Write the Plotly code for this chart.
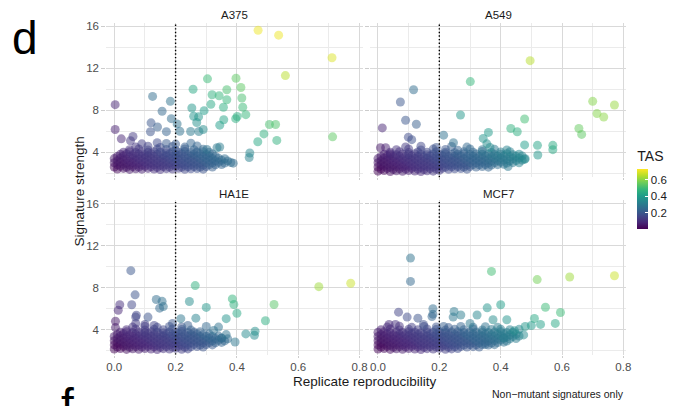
import plotly.graph_objects as go

# ---------------- data ----------------
panel_names = ["A375", "A549", "HA1E", "MCF7"]

x_ticks = [0.0, 0.2, 0.4, 0.6, 0.8]
x_tick_labels = ["0.0", "0.2", "0.4", "0.6", "0.8"]
y_ticks = [4, 8, 12, 16]
y_tick_labels = ["4", "8", "12", "16"]
tas_ticks = [0.2, 0.4, 0.6]
tas_tick_labels = ["0.2", "0.4", "0.6"]
threshold_x = 0.2

# ---- A375: scattered points ----
a375_out_x = [.469, .536, .71, .558, .712, .304, .397, .257, .319, .367, .413, .342, .367, .416, .315,
              .419, .356, .253, .293, .429, .396, .401, .357, .259, .275, .269, .344, .29, .506, .526,
              .488, .468, .53, .442, .44, .388, .125, .183, .156, .186, .003, .003, .023, .061, .053,
              .12, .141, .118, .17, .205, .214, .17, .249, .276, .335, .344, .302]
a375_out_y = [15.62, 15.15, 13.0, 11.3, 5.47, 10.99, 11.05, 10.0, 9.48, 9.95, 10.17, 9.38, 9.0, 9.16, 8.56,
              8.28, 8.28, 8.21, 7.96, 7.58, 7.2, 7.4, 7.1, 7.43, 7.37, 6.83, 6.58, 6.17, 6.64, 6.64,
              5.75, 5.0, 5.13, 3.93, 3.5, 2.96, 9.32, 8.85, 7.9, 7.2, 8.53, 6.17, 5.28, 5.5, 5.1,
              6.8, 6.4, 5.95, 5.96, 6.7, 6.0, 4.83, 5.98, 5.98, 4.43, 4.5, 4.27]
a375_out_tas = [.72, .72, .7, .66, .55, .5, .55, .44, .47, .52, .55, .49, .49, .52, .44,
                .5, .46, .39, .41, .49, .46, .46, .43, .38, .39, .37, .41, .36, .52, .53,
                .47, .44, .47, .34, .32, .26, .26, .28, .25, .26, .08, .07, .08, .13, .12,
                .2, .22, .19, .23, .28, .27, .21, .3, .31, .3, .31, .28]
# ---- A375: dense cluster ----
a375_cl_x = [.01, .03, .05, .07, .09, .11, .13, .15, .17, .19, .21, .23, .25, .27, .29,
             0, .02, .04, .06, .08, .1, .12, .14, .16, .18, .2, .22, .24, .26, .28, .3, .32,
             .01, .03, .05, .07, .09, .11, .13, .15, .17, .19, .21, .23, .25, .27, .29, .31, .33, .35,
             0, .02, .04, .06, .08, .1, .12, .14, .16, .18, .2, .22, .24, .26, .28, .3, .32, .34, .36, .38,
             .01, .03, .05, .07, .09, .11, .13, .15, .17, .19, .21, .23, .25, .27, .29, .31, .33, .35, .37,
             0, .02, .04, .06, .08, .1, .12, .14, .16, .18, .2, .22, .24, .26, .28, .3, .32, .34, .36,
             .01, .03, .05, .07, .09, .11, .13, .15, .17, .19, .21, .23, .25, .27, .29, .31, .33,
             .02, .04, .06, .08, .1, .12, .14, .16, .18, .2, .22, .24, .26, .28, .3, .32,
             .03, .05, .07, .09, .11, .13, .15, .17, .19, .21, .23, .25, .27, .29, .31,
             .05, .08, .11, .14, .17, .2, .23, .26, .29,
             .07, .11, .15, .19, .23, .27,
             .09, .14, .2, .25]
a375_cl_y = [2.4, 2.46, 2.37, 2.43, 2.39, 2.46, 2.41, 2.36, 2.44, 2.4, 2.47, 2.38, 2.42, 2.45, 2.39,
             2.6, 2.66, 2.57, 2.63, 2.59, 2.66, 2.61, 2.56, 2.64, 2.6, 2.67, 2.58, 2.62, 2.65, 2.59, 2.63, 2.6,
             2.8, 2.86, 2.77, 2.83, 2.79, 2.86, 2.81, 2.76, 2.84, 2.8, 2.87, 2.78, 2.82, 2.85, 2.79, 2.83, 2.8, 2.84,
             3.0, 3.06, 2.97, 3.03, 2.99, 3.06, 3.01, 2.96, 3.04, 3.0, 3.07, 2.98, 3.02, 3.05, 2.99, 3.03, 3.0, 3.04, 2.98, 3.02,
             3.2, 3.26, 3.17, 3.23, 3.19, 3.26, 3.21, 3.16, 3.24, 3.2, 3.27, 3.18, 3.22, 3.25, 3.19, 3.23, 3.2, 3.24, 3.18,
             3.4, 3.46, 3.37, 3.43, 3.39, 3.46, 3.41, 3.36, 3.44, 3.4, 3.47, 3.38, 3.42, 3.45, 3.39, 3.43, 3.4, 3.44, 3.38,
             3.6, 3.66, 3.57, 3.63, 3.59, 3.66, 3.61, 3.56, 3.64, 3.6, 3.67, 3.58, 3.62, 3.65, 3.59, 3.63, 3.6,
             3.8, 3.86, 3.77, 3.83, 3.79, 3.86, 3.81, 3.76, 3.84, 3.8, 3.87, 3.78, 3.82, 3.85, 3.79, 3.83,
             4.0, 4.06, 3.97, 4.03, 3.99, 4.06, 4.01, 3.96, 4.04, 4.0, 4.07, 3.98, 4.02, 4.05, 3.99,
             4.25, 4.32, 4.22, 4.3, 4.26, 4.2, 4.31, 4.24, 4.28,
             4.5, 4.58, 4.46, 4.55, 4.49, 4.6,
             4.8, 4.9, 4.78, 4.86]
a375_cl_tas = [.02, .04, .05, .06, .07, .08, .1, .11, .12, .13, .14, .16, .17, .18, .19,
               .02, .04, .05, .06, .07, .08, .1, .11, .12, .13, .14, .16, .17, .18, .19, .2, .22,
               .04, .05, .06, .07, .08, .1, .11, .12, .13, .14, .16, .17, .18, .19, .2, .22, .23, .24,
               .04, .05, .06, .07, .08, .1, .11, .12, .13, .14, .16, .17, .18, .19, .2, .22, .23, .24, .25, .26,
               .05, .06, .07, .08, .09, .11, .12, .13, .14, .15, .17, .18, .19, .2, .21, .23, .24, .25, .26,
               .05, .06, .07, .08, .1, .11, .12, .13, .14, .16, .17, .18, .19, .2, .22, .23, .24, .25, .26,
               .06, .07, .08, .09, .11, .12, .13, .14, .15, .17, .18, .19, .2, .21, .23, .24, .25,
               .07, .08, .1, .11, .12, .13, .14, .16, .17, .18, .19, .2, .22, .23, .24, .25,
               .08, .1, .11, .12, .13, .14, .16, .17, .18, .19, .2, .22, .23, .24, .25,
               .1, .12, .14, .16, .17, .19, .21, .23, .25,
               .12, .15, .17, .19, .22, .24,
               .14, .17, .21, .24]

# ---- A549 ----
a549_out_x = [.496, .301, .116, .073, .70, .771, .714, .736, .269, .09, .125, .014, .478, .433, .454,
              .655, .664, .36, .343, .099, .11, .214, .246, .52, .57, .57, .521, .478, .355, .365,
              .008, .025, .04, .478, .424, .46]
a549_out_y = [12.72, 10.73, 9.95, 8.78, 8.85, 8.5, 7.68, 7.36, 7.55, 7.05, 6.67, 6.32, 7.17, 6.26, 5.95,
              6.26, 5.7, 5.89, 5.32, 5.44, 5.2, 5.63, 4.9, 4.66, 4.66, 4.25, 3.74, 4.7, 4.8, 4.45,
              4.43, 4.43, 3.75, 3.33, 2.65, 3.0]
a549_out_tas = [.66, .49, .26, .2, .6, .62, .6, .61, .39, .2, .22, .08, .51, .47, .46,
                .56, .55, .4, .38, .17, .18, .27, .28, .43, .45, .44, .39, .41, .36, .35,
                .05, .07, .08, .35, .3, .33]
a549_cl_x = [0, .02, .04, .06, .08, .1, .12, .14, .16, .18, .2,
             .01, .03, .05, .07, .09, .11, .13, .15, .17, .19, .21, .23, .25, .27, .29,
             0, .02, .04, .06, .08, .1, .12, .14, .16, .18, .2, .22, .24, .26, .28, .3, .32, .34, .36,
             .01, .03, .05, .07, .09, .11, .13, .15, .17, .19, .21, .23, .25, .27, .29, .31, .33, .35, .37, .39, .41,
             0, .02, .04, .06, .08, .1, .12, .14, .16, .18, .2, .22, .24, .26, .28, .3, .32, .34, .36, .38, .4, .42, .44,
             .01, .03, .05, .07, .09, .11, .13, .15, .17, .19, .21, .23, .25, .27, .29, .31, .33, .35, .37, .39, .41, .43, .45, .47,
             0, .02, .04, .06, .08, .1, .12, .14, .16, .18, .2, .22, .24, .26, .28, .3, .32, .34, .36, .38, .4, .42, .44, .46, .48,
             .01, .03, .05, .07, .09, .11, .13, .15, .17, .19, .21, .23, .25, .27, .29, .31, .33, .35, .37, .39, .41, .43, .45, .47,
             .02, .04, .06, .08, .1, .12, .14, .16, .18, .2, .22, .24, .26, .28, .3, .32, .34, .36, .38, .4, .42, .44, .46,
             .04, .07, .1, .13, .16, .19, .22, .25, .28, .31, .34, .37, .4, .43,
             .06, .1, .14, .18, .22, .26, .3, .34, .38, .42,
             .09, .14, .19, .24, .29]
a549_cl_y = [2.2, 2.26, 2.17, 2.23, 2.19, 2.26, 2.21, 2.16, 2.24, 2.2, 2.27,
             2.4, 2.46, 2.37, 2.43, 2.39, 2.46, 2.41, 2.36, 2.44, 2.4, 2.47, 2.38, 2.42, 2.45, 2.39,
             2.6, 2.66, 2.57, 2.63, 2.59, 2.66, 2.61, 2.56, 2.64, 2.6, 2.67, 2.58, 2.62, 2.65, 2.59, 2.63, 2.6, 2.64, 2.58,
             2.8, 2.86, 2.77, 2.83, 2.79, 2.86, 2.81, 2.76, 2.84, 2.8, 2.87, 2.78, 2.82, 2.85, 2.79, 2.83, 2.8, 2.84, 2.78, 2.82, 2.86,
             3.0, 3.06, 2.97, 3.03, 2.99, 3.06, 3.01, 2.96, 3.04, 3.0, 3.07, 2.98, 3.02, 3.05, 2.99, 3.03, 3.0, 3.04, 2.98, 3.02, 3.06, 2.97, 3.01,
             3.2, 3.26, 3.17, 3.23, 3.19, 3.26, 3.21, 3.16, 3.24, 3.2, 3.27, 3.18, 3.22, 3.25, 3.19, 3.23, 3.2, 3.24, 3.18, 3.22, 3.26, 3.17, 3.21, 3.25,
             3.4, 3.46, 3.37, 3.43, 3.39, 3.46, 3.41, 3.36, 3.44, 3.4, 3.47, 3.38, 3.42, 3.45, 3.39, 3.43, 3.4, 3.44, 3.38, 3.42, 3.46, 3.37, 3.41, 3.45, 3.39,
             3.6, 3.66, 3.57, 3.63, 3.59, 3.66, 3.61, 3.56, 3.64, 3.6, 3.67, 3.58, 3.62, 3.65, 3.59, 3.63, 3.6, 3.64, 3.58, 3.62, 3.66, 3.57, 3.61, 3.65,
             3.8, 3.86, 3.77, 3.83, 3.79, 3.86, 3.81, 3.76, 3.84, 3.8, 3.87, 3.78, 3.82, 3.85, 3.79, 3.83, 3.8, 3.84, 3.78, 3.82, 3.86, 3.77, 3.81,
             4.0, 4.06, 3.97, 4.03, 3.99, 4.06, 4.01, 3.96, 4.04, 4.0, 4.07, 3.98, 4.02, 4.05,
             4.25, 4.32, 4.22, 4.3, 4.26, 4.2, 4.31, 4.24, 4.28, 4.22,
             4.5, 4.58, 4.46, 4.55, 4.49]
a549_cl_tas = [.01, .02, .03, .05, .06, .07, .08, .09, .11, .12, .13,
               .02, .04, .05, .06, .07, .08, .1, .11, .12, .13, .14, .16, .17, .18, .19,
               .02, .04, .05, .06, .07, .08, .1, .11, .12, .13, .14, .16, .17, .18, .19, .2, .22, .23, .24,
               .04, .05, .06, .07, .08, .1, .11, .12, .13, .14, .16, .17, .18, .19, .2, .22, .23, .24, .25, .26, .28,
               .04, .05, .06, .07, .08, .1, .11, .12, .13, .14, .16, .17, .18, .19, .2, .22, .23, .24, .25, .26, .28, .29, .3,
               .05, .06, .07, .08, .09, .11, .12, .13, .14, .15, .17, .18, .19, .2, .21, .23, .24, .25, .26, .27, .29, .3, .31, .32,
               .05, .06, .07, .08, .1, .11, .12, .13, .14, .16, .17, .18, .19, .2, .22, .23, .24, .25, .26, .28, .29, .3, .31, .32, .34,
               .06, .07, .08, .09, .11, .12, .13, .14, .15, .17, .18, .19, .2, .21, .23, .24, .25, .26, .27, .29, .3, .31, .32, .33,
               .07, .08, .1, .11, .12, .13, .14, .16, .17, .18, .19, .2, .22, .23, .24, .25, .26, .28, .29, .3, .31, .32, .34,
               .09, .11, .13, .14, .16, .18, .2, .22, .23, .25, .27, .29, .31, .32,
               .11, .13, .16, .18, .2, .23, .25, .28, .3, .33,
               .13, .16, .19, .22, .25]

# ---- HA1E ----
ha1e_out_x = [.054, .068, .264, .667, .771, .018, .013, .057, .137, .156, .16, .148, .245, .3, .385,
              .39, .40, .521, .493, .365, .266, .217, .11, .072, .07, .004, .004, .429, .459, .457, .394,
              .07, .1, .13, .19, .24, .3, .324, .365, .34, .35]
ha1e_out_y = [9.62, 7.32, 8.2, 8.1, 8.42, 6.37, 5.85, 6.37, 6.87, 6.7, 6.2, 6.05, 6.68, 6.12, 6.93,
              6.4, 5.57, 6.4, 4.85, 5.05, 5.1, 5.05, 5.2, 5.37, 5.2, 4.8, 4.2, 3.6, 3.85, 3.47, 2.83,
              4.6, 4.5, 4.4, 4.6, 4.4, 4.3, 3.93, 3.53, 4.25, 3.2]
ha1e_out_tas = [.2, .19, .47, .63, .68, .1, .08, .16, .26, .27, .27, .25, .36, .39, .48,
                .47, .44, .54, .46, .38, .33, .29, .19, .16, .15, .05, .05, .35, .37, .35, .29,
                .13, .14, .15, .2, .22, .25, .27, .28, .28, .26]
ha1e_cl_x = [0, .02, .04, .06, .08, .1, .12, .14, .16, .18, .2, .22, .24,
             .01, .03, .05, .07, .09, .11, .13, .15, .17, .19, .21, .23, .25, .27, .29,
             0, .02, .04, .06, .08, .1, .12, .14, .16, .18, .2, .22, .24, .26, .28, .3, .32,
             .01, .03, .05, .07, .09, .11, .13, .15, .17, .19, .21, .23, .25, .27, .29, .31, .33, .35,
             0, .02, .04, .06, .08, .1, .12, .14, .16, .18, .2, .22, .24, .26, .28, .3, .32, .34, .36,
             .01, .03, .05, .07, .09, .11, .13, .15, .17, .19, .21, .23, .25, .27, .29, .31, .33, .35, .37,
             0, .02, .04, .06, .08, .1, .12, .14, .16, .18, .2, .22, .24, .26, .28, .3, .32, .34,
             .01, .03, .05, .07, .09, .11, .13, .15, .17, .19, .21, .23, .25, .27, .29, .31,
             .02, .04, .06, .08, .1, .12, .14, .16, .18, .2, .22, .24, .26, .28,
             .04, .07, .1, .13, .16, .19, .22, .25,
             .06, .1, .14, .18, .22]
ha1e_cl_y = [2.15, 2.21, 2.12, 2.18, 2.14, 2.21, 2.16, 2.11, 2.19, 2.15, 2.22, 2.13, 2.17,
             2.35, 2.41, 2.32, 2.38, 2.34, 2.41, 2.36, 2.31, 2.39, 2.35, 2.42, 2.33, 2.37, 2.4, 2.34,
             2.55, 2.61, 2.52, 2.58, 2.54, 2.61, 2.56, 2.51, 2.59, 2.55, 2.62, 2.53, 2.57, 2.6, 2.54, 2.58, 2.55,
             2.75, 2.81, 2.72, 2.78, 2.74, 2.81, 2.76, 2.71, 2.79, 2.75, 2.82, 2.73, 2.77, 2.8, 2.74, 2.78, 2.75, 2.79,
             2.95, 3.01, 2.92, 2.98, 2.94, 3.01, 2.96, 2.91, 2.99, 2.95, 3.02, 2.93, 2.97, 3.0, 2.94, 2.98, 2.95, 2.99, 2.93,
             3.15, 3.21, 3.12, 3.18, 3.14, 3.21, 3.16, 3.11, 3.19, 3.15, 3.22, 3.13, 3.17, 3.2, 3.14, 3.18, 3.15, 3.19, 3.13,
             3.35, 3.41, 3.32, 3.38, 3.34, 3.41, 3.36, 3.31, 3.39, 3.35, 3.42, 3.33, 3.37, 3.4, 3.34, 3.38, 3.35, 3.39,
             3.55, 3.61, 3.52, 3.58, 3.54, 3.61, 3.56, 3.51, 3.59, 3.55, 3.62, 3.53, 3.57, 3.6, 3.54, 3.58,
             3.75, 3.81, 3.72, 3.78, 3.74, 3.81, 3.76, 3.71, 3.79, 3.75, 3.82, 3.73, 3.77, 3.8,
             4.0, 4.06, 3.97, 4.03, 3.99, 4.06, 4.01, 3.96,
             4.25, 4.32, 4.22, 4.3, 4.26]
ha1e_cl_tas = [.01, .02, .03, .05, .06, .07, .08, .09, .11, .12, .13, .14, .15,
               .02, .03, .05, .06, .07, .08, .09, .11, .12, .13, .14, .15, .17, .18, .19,
               .02, .03, .05, .06, .07, .08, .09, .11, .12, .13, .14, .15, .17, .18, .19, .2, .21,
               .03, .05, .06, .07, .08, .09, .11, .12, .13, .14, .15, .17, .18, .19, .2, .21, .23, .24,
               .03, .05, .06, .07, .08, .09, .11, .12, .13, .14, .15, .17, .18, .19, .2, .21, .23, .24, .25,
               .05, .06, .07, .08, .09, .11, .12, .13, .14, .15, .17, .18, .19, .2, .21, .23, .24, .25, .26,
               .05, .06, .07, .08, .09, .11, .12, .13, .14, .15, .17, .18, .19, .2, .21, .23, .24, .25,
               .06, .07, .08, .09, .11, .12, .13, .14, .15, .17, .18, .19, .2, .21, .23, .24,
               .07, .08, .09, .11, .12, .13, .14, .15, .17, .18, .19, .2, .21, .23,
               .09, .11, .13, .14, .16, .18, .2, .22,
               .11, .13, .16, .18, .2]

# ---- MCF7 ----
mcf7_out_x = [.106, .106, .37, .519, .625, .771, .067, .095, .179, .179, .176, .248, .27, .245, .356,
              .40, .546, .595, .51, .578, .375, .323, .3, .42, .48, .50, .53, .475, .445, .41,
              .35, .214, .148, .13, .057, .036]
mcf7_out_y = [10.82, 8.6, 9.55, 8.77, 9.02, 9.14, 5.67, 5.2, 6.0, 5.48, 5.25, 5.73, 5.4, 5.2, 6.08,
              6.37, 6.14, 5.64, 5.07, 4.6, 4.95, 5.4, 4.6, 4.95, 4.3, 4.4, 4.5, 3.5, 3.9, 3.2,
              2.6, 4.3, 4.5, 5.1, 4.5, 4.5]
mcf7_out_tas = [.28, .25, .51, .58, .63, .68, .15, .17, .26, .25, .24, .3, .31, .29, .38,
                .41, .5, .5, .44, .44, .36, .34, .3, .38, .39, .4, .42, .35, .36, .31,
                .24, .22, .18, .19, .1, .09]
mcf7_cl_x = [0, .02, .04, .06, .08, .1, .12, .14, .16, .18, .2, .22, .24, .26,
             .01, .03, .05, .07, .09, .11, .13, .15, .17, .19, .21, .23, .25, .27, .29, .31, .33,
             0, .02, .04, .06, .08, .1, .12, .14, .16, .18, .2, .22, .24, .26, .28, .3, .32, .34, .36, .38,
             .01, .03, .05, .07, .09, .11, .13, .15, .17, .19, .21, .23, .25, .27, .29, .31, .33, .35, .37, .39, .41,
             0, .02, .04, .06, .08, .1, .12, .14, .16, .18, .2, .22, .24, .26, .28, .3, .32, .34, .36, .38, .4, .42,
             .01, .03, .05, .07, .09, .11, .13, .15, .17, .19, .21, .23, .25, .27, .29, .31, .33, .35, .37, .39, .41, .43, .45,
             0, .02, .04, .06, .08, .1, .12, .14, .16, .18, .2, .22, .24, .26, .28, .3, .32, .34, .36, .38, .4, .42, .44, .46,
             .01, .03, .05, .07, .09, .11, .13, .15, .17, .19, .21, .23, .25, .27, .29, .31, .33, .35, .37, .39, .41, .43, .45,
             0, .02, .04, .06, .08, .1, .12, .14, .16, .18, .2, .22, .24, .26, .28, .3, .32, .34, .36, .38, .4, .42, .44,
             .01, .04, .07, .1, .13, .16, .19, .22, .25, .28, .31, .34, .37, .4, .43, .46,
             .03, .07, .11, .15, .19, .23, .27, .31, .35, .39]
mcf7_cl_y = [2.15, 2.21, 2.12, 2.18, 2.14, 2.21, 2.16, 2.11, 2.19, 2.15, 2.22, 2.13, 2.17, 2.2,
             2.35, 2.41, 2.32, 2.38, 2.34, 2.41, 2.36, 2.31, 2.39, 2.35, 2.42, 2.33, 2.37, 2.4, 2.34, 2.38, 2.35,
             2.55, 2.61, 2.52, 2.58, 2.54, 2.61, 2.56, 2.51, 2.59, 2.55, 2.62, 2.53, 2.57, 2.6, 2.54, 2.58, 2.55, 2.59, 2.53, 2.57,
             2.75, 2.81, 2.72, 2.78, 2.74, 2.81, 2.76, 2.71, 2.79, 2.75, 2.82, 2.73, 2.77, 2.8, 2.74, 2.78, 2.75, 2.79, 2.73, 2.77, 2.81,
             2.95, 3.01, 2.92, 2.98, 2.94, 3.01, 2.96, 2.91, 2.99, 2.95, 3.02, 2.93, 2.97, 3.0, 2.94, 2.98, 2.95, 2.99, 2.93, 2.97, 3.01, 2.92,
             3.15, 3.21, 3.12, 3.18, 3.14, 3.21, 3.16, 3.11, 3.19, 3.15, 3.22, 3.13, 3.17, 3.2, 3.14, 3.18, 3.15, 3.19, 3.13, 3.17, 3.21, 3.12, 3.16,
             3.35, 3.41, 3.32, 3.38, 3.34, 3.41, 3.36, 3.31, 3.39, 3.35, 3.42, 3.33, 3.37, 3.4, 3.34, 3.38, 3.35, 3.39, 3.33, 3.37, 3.41, 3.32, 3.36, 3.4,
             3.55, 3.61, 3.52, 3.58, 3.54, 3.61, 3.56, 3.51, 3.59, 3.55, 3.62, 3.53, 3.57, 3.6, 3.54, 3.58, 3.55, 3.59, 3.53, 3.57, 3.61, 3.52, 3.56,
             3.75, 3.81, 3.72, 3.78, 3.74, 3.81, 3.76, 3.71, 3.79, 3.75, 3.82, 3.73, 3.77, 3.8, 3.74, 3.78, 3.75, 3.79, 3.73, 3.77, 3.81, 3.72, 3.76,
             4.0, 4.06, 3.97, 4.03, 3.99, 4.06, 4.01, 3.96, 4.04, 4.0, 4.07, 3.98, 4.02, 4.05, 3.99, 4.03,
             4.25, 4.32, 4.22, 4.3, 4.26, 4.2, 4.31, 4.24, 4.28, 4.22]
mcf7_cl_tas = [.01, .02, .03, .05, .06, .07, .08, .09, .11, .12, .13, .14, .15, .17,
               .02, .03, .05, .06, .07, .08, .09, .11, .12, .13, .14, .15, .17, .18, .19, .2, .21,
               .02, .03, .05, .06, .07, .08, .09, .11, .12, .13, .14, .15, .17, .18, .19, .2, .21, .23, .24, .25,
               .03, .05, .06, .07, .08, .09, .11, .12, .13, .14, .15, .17, .18, .19, .2, .21, .23, .24, .25, .26, .27,
               .03, .05, .06, .07, .08, .09, .11, .12, .13, .14, .15, .17, .18, .19, .2, .21, .23, .24, .25, .26, .27, .29,
               .05, .06, .07, .08, .09, .11, .12, .13, .14, .15, .17, .18, .19, .2, .21, .23, .24, .25, .26, .27, .29, .3, .31,
               .05, .06, .07, .08, .09, .11, .12, .13, .14, .15, .17, .18, .19, .2, .21, .23, .24, .25, .26, .27, .29, .3, .31, .32,
               .06, .07, .08, .09, .11, .12, .13, .14, .15, .17, .18, .19, .2, .21, .23, .24, .25, .26, .27, .29, .3, .31, .32,
               .06, .07, .08, .09, .11, .12, .13, .14, .15, .17, .18, .19, .2, .21, .23, .24, .25, .26, .27, .29, .3, .31, .32,
               .07, .09, .11, .13, .14, .16, .18, .2, .22, .23, .25, .27, .29, .31, .32, .34,
               .09, .11, .14, .16, .19, .21, .24, .26, .28, .31]

# ---------------- layout geometry ----------------
# the page body has an 8 px margin: the figure is drawn from (8, 8) of the window
WIN_W, WIN_H, OFF = 689, 406, 8
W, H = WIN_W - OFF, WIN_H - OFF
FONT = "Liberation Sans, Arial, Helvetica, sans-serif"
X_RANGE = [-0.026, 0.81]
Y_RANGE = [1.63, 16.33]


def px_x(p):
    return (p - OFF) / W


def px_y(p):
    return 1 - (p - OFF) / H


col_dom = [[px_x(107), px_x(365.3)], [px_x(372.7), px_x(631)]]
row_dom = [[px_y(176), px_y(20.8)], [px_y(354.3), px_y(199.2)]]

panels = [
    (a375_cl_x + a375_out_x, a375_cl_y + a375_out_y, a375_cl_tas + a375_out_tas),
    (a549_cl_x + a549_out_x, a549_cl_y + a549_out_y, a549_cl_tas + a549_out_tas),
    (ha1e_cl_x + ha1e_out_x, ha1e_cl_y + ha1e_out_y, ha1e_cl_tas + ha1e_out_tas),
    (mcf7_cl_x + mcf7_out_x, mcf7_cl_y + mcf7_out_y, mcf7_cl_tas + mcf7_out_tas),
]

fig = go.Figure()
layout = dict(
    width=W, height=H, autosize=False,
    margin=dict(l=0, r=0, t=0, b=0, pad=0),
    paper_bgcolor="white", plot_bgcolor="white",
    font=dict(family=FONT, color="#1a1a1a"),
    showlegend=False,
    coloraxis=dict(
        colorscale="Viridis", cmin=0.005, cmax=0.738,
        colorbar=dict(
            title=dict(text="TAS", side="top", font=dict(size=14, family=FONT, color="#1a1a1a")),
            x=px_x(642), xanchor="left", y=px_y(227.7), yanchor="bottom",
            len=81, lenmode="pixels", thickness=11, thicknessmode="pixels",
            tickvals=tas_ticks, ticktext=tas_tick_labels,
            ticks="inside", ticklen=3, tickcolor="white", tickwidth=1,
            tickfont=dict(size=11.5, family=FONT, color="#1a1a1a"),
            outlinewidth=0, xpad=0, ypad=0,
        ),
    ),
)

annotations = []
shapes = []
for i, (name, (xs, ys, ts)) in enumerate(zip(panel_names, panels)):
    r, c = divmod(i, 2)
    sfx = "" if i == 0 else str(i + 1)
    order = sorted(range(len(xs)), key=lambda k: ts[k])
    fig.add_trace(go.Scatter(
        x=[xs[k] for k in order], y=[ys[k] for k in order],
        mode="markers",
        marker=dict(size=9, color=[ts[k] for k in order], coloraxis="coloraxis",
                    opacity=0.5, line=dict(width=0)),
        xaxis="x" + sfx, yaxis="y" + sfx, hoverinfo="skip",
    ))
    layout["xaxis" + sfx] = dict(
        domain=col_dom[c], range=X_RANGE, anchor="y" + sfx,
        tickvals=x_ticks, ticktext=x_tick_labels, showticklabels=(r == 1),
        ticks="outside", ticklen=2, tickcolor="#cccccc", tickwidth=1,
        tickfont=dict(size=11.5, color="#4d4d4d", family=FONT),
        showgrid=True, gridcolor="#d9d9d9", gridwidth=1.1,
        minor=dict(tickvals=[0.1, 0.3, 0.5, 0.7], showgrid=True, gridcolor="#ebebeb", gridwidth=0.8, ticks=""),
        zeroline=False, showline=False, fixedrange=True,
    )
    layout["yaxis" + sfx] = dict(
        domain=row_dom[r], range=Y_RANGE, anchor="x" + sfx,
        tickvals=y_ticks, ticktext=y_tick_labels, showticklabels=(c == 0),
        ticks="outside", ticklen=4, tickcolor="#cccccc", tickwidth=1,
        tickfont=dict(size=11.5, color="#4d4d4d", family=FONT),
        showgrid=True, gridcolor="#d9d9d9", gridwidth=1.1,
        minor=dict(tickvals=[2, 6, 10, 14], showgrid=True, gridcolor="#ebebeb", gridwidth=0.8, ticks=""),
        zeroline=False, showline=False, fixedrange=True,
    )
    shapes.append(dict(type="line", xref="x" + sfx, yref="y" + sfx + " domain",
                       x0=threshold_x, x1=threshold_x, y0=0, y1=1,
                       line=dict(color="black", width=1.4, dash="1.4px,2.2px"), layer="above"))
    annotations.append(dict(text=name, xref="paper", yref="paper",
                            x=(col_dom[c][0] + col_dom[c][1]) / 2,
                            y=px_y(13.5 if r == 0 else 192.5),
                            xanchor="center", yanchor="middle", showarrow=False,
                            font=dict(size=11.5, color="#1a1a1a", family=FONT)))

annotations += [
    dict(text="Signature strength", xref="paper", yref="paper", x=px_x(80), y=px_y(190),
         textangle=-90, showarrow=False, xanchor="center", yanchor="middle",
         font=dict(size=13.5, color="#1a1a1a", family=FONT)),
    dict(text="Replicate reproducibility", xref="paper", yref="paper", x=px_x(368), y=px_y(381),
         showarrow=False, xanchor="center", yanchor="middle",
         font=dict(size=13.5, color="#1a1a1a", family=FONT)),
    dict(text="Non\u2212mutant signatures only", xref="paper", yref="paper", x=px_x(631), y=px_y(393.5),
         showarrow=False, xanchor="right", yanchor="middle",
         font=dict(size=10.5, color="#1a1a1a", family=FONT)),
    dict(text="d", xref="paper", yref="paper", x=px_x(25), y=1.0,
         showarrow=False, xanchor="center", yanchor="top",
         font=dict(size=46, color="black", family=FONT)),
    dict(text="f", xref="paper", yref="paper", x=px_x(68), y=px_y(405),
         showarrow=False, xanchor="center", yanchor="middle",
         font=dict(size=46, color="black", family=FONT)),
]
layout["annotations"] = annotations
layout["shapes"] = shapes
fig.update_layout(**layout)

fig.write_html("out.html")
